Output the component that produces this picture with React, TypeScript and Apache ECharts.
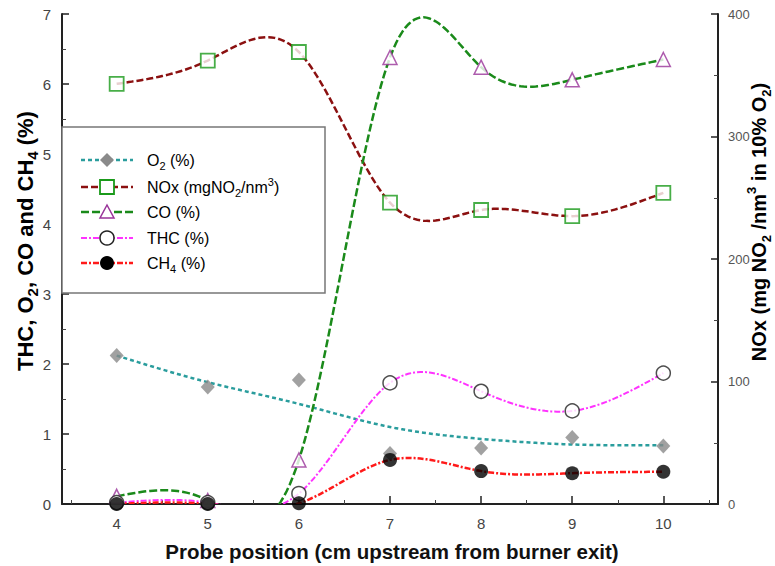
import React, { useEffect, useRef } from "react";
import * as echarts from "echarts";

const positions = [4, 5, 6, 7, 8, 9, 10];
const xLabels = [4, 5, 6, 7, 8, 9, 10];
const xHalfTicks = [3.5, 4.5, 5.5, 6.5, 7.5, 8.5, 9.5, 10.5];
const o2Points = [2.12, 1.67, 1.77, 0.72, 0.8, 0.95, 0.83];
const o2Trend = [2.12, 1.74, 1.43, 1.1, 0.93, 0.85, 0.84];
const noxValues = [343, 362, 369, 246, 240, 235, 254];
const coValues = [0.11, 0.05, 0.63, 6.38, 6.24, 6.06, 6.35];
const thcValues = [0.02, 0.02, 0.15, 1.73, 1.61, 1.33, 1.87];
const ch4Values = [0.0, 0.0, 0.01, 0.63, 0.47, 0.44, 0.46];

const FONT = "Liberation Sans, Arial, Helvetica, sans-serif";

const pair = (arr: number[]) => positions.map((x, i) => [x, arr[i]]);

// natural cubic spline (second derivatives) through the data points
function splineM(xs: number[], ys: number[]) {
  const n = xs.length;
  const M = new Array(n).fill(0);
  if (n < 3) return M;
  const a: number[] = [], b: number[] = [], c: number[] = [], d: number[] = [];
  for (let i = 1; i < n - 1; i++) {
    const h0 = xs[i] - xs[i - 1];
    const h1 = xs[i + 1] - xs[i];
    a.push(h0);
    b.push(2 * (h0 + h1));
    c.push(h1);
    d.push(6 * ((ys[i + 1] - ys[i]) / h1 - (ys[i] - ys[i - 1]) / h0));
  }
  const m = b.length;
  const cp = new Array(m).fill(0), dp = new Array(m).fill(0);
  cp[0] = c[0] / b[0];
  dp[0] = d[0] / b[0];
  for (let i = 1; i < m; i++) {
    const den = b[i] - a[i] * cp[i - 1];
    cp[i] = c[i] / den;
    dp[i] = (d[i] - a[i] * dp[i - 1]) / den;
  }
  const sol = new Array(m).fill(0);
  sol[m - 1] = dp[m - 1];
  for (let i = m - 2; i >= 0; i--) sol[i] = dp[i] - cp[i] * sol[i + 1];
  for (let i = 0; i < m; i++) M[i + 1] = sol[i];
  return M;
}

function splineCurve(xs: number[], ys: number[], steps = 30) {
  const M = splineM(xs, ys);
  const out: number[][] = [];
  for (let i = 0; i < xs.length - 1; i++) {
    const h = xs[i + 1] - xs[i];
    for (let k = i === 0 ? 0 : 1; k <= steps; k++) {
      const x = xs[i] + (h * k) / steps;
      const A = xs[i + 1] - x;
      const B = x - xs[i];
      const y =
        (M[i] * A * A * A) / (6 * h) +
        (M[i + 1] * B * B * B) / (6 * h) +
        (ys[i] - (M[i] * h * h) / 6) * (A / h) +
        (ys[i + 1] - (M[i + 1] * h * h) / 6) * (B / h);
      out.push([x, y]);
    }
  }
  return out;
}

function curveSeries(name: string, values: number[], color: string, width: number, dash: number[], yAxisIndex = 0, z = 2) {
  const curve = splineCurve(positions, values);
  return {
    name,
    type: "custom",
    yAxisIndex,
    clip: true,
    z,
    data: pair(values),
    renderItem: (params: any, api: any) => {
      if (params.dataIndex !== 0) return { type: "group", children: [] };
      const cs = params.coordSys;
      return {
        type: "polyline",
        shape: { points: curve.map((p) => api.coord(p)) },
        style: { stroke: color, lineWidth: width, lineDash: dash, fill: null },
        clipPath: { type: "rect", shape: { x: cs.x, y: cs.y, width: cs.width, height: cs.height } },
        silent: true,
      };
    },
  };
}

const richBig = (size: number) => ({
  m: { fontSize: size, fontWeight: "bold", fontFamily: FONT, lineHeight: size + 8, verticalAlign: "middle", color: "#111" },
  sub: { fontSize: Math.round(size * 0.66), fontWeight: "bold", fontFamily: FONT, lineHeight: Math.round(size * 0.66), verticalAlign: "bottom", color: "#111" },
  sup: { fontSize: Math.round(size * 0.66), fontWeight: "bold", fontFamily: FONT, lineHeight: Math.round(size * 0.66), verticalAlign: "top", color: "#111" },
});

const richLegend = {
  m: { fontSize: 16, fontFamily: FONT, lineHeight: 22, verticalAlign: "middle", color: "#111" },
  sub: { fontSize: 11, fontFamily: FONT, lineHeight: 11, verticalAlign: "bottom", color: "#111" },
  sup: { fontSize: 11, fontFamily: FONT, lineHeight: 11, verticalAlign: "top", color: "#111" },
};

export default function App() {
  const ref = useRef<HTMLDivElement>(null);
  useEffect(() => {
    const chart = echarts.init(ref.current!, null, { renderer: "svg" });
    const lx0 = 81, lx1 = 133, mx = 107, tx = 147;
    const rows = [160, 187, 212, 238, 263];
    const legendLine = (y: number, color: string, dash: number[], w = 2.5) => ({
      type: "line",
      shape: { x1: lx0, y1: y, x2: lx1, y2: y },
      style: { stroke: color, lineWidth: w, lineDash: dash },
      z: 101,
    });
    const legendText = (y: number, text: string) => ({
      type: "text",
      x: tx,
      y,
      style: { text, rich: richLegend, verticalAlign: "middle", align: "left", font: `16px ${FONT}` },
      z: 102,
    });
    const option: any = {
      animation: false,
      grid: { left: 62, right: 57, top: 14, bottom: 62, containLabel: false, outerBoundsMode: "none" },
      xAxis: [
        {
          type: "value",
          min: 3.4,
          max: 10.6,
          axisLine: { show: true, lineStyle: { color: "#222", width: 2 } },
          axisTick: { show: true, inside: true, length: 8, customValues: xLabels, lineStyle: { color: "#222", width: 1.5 } },
          axisLabel: { customValues: xLabels, color: "#444", fontSize: 15, fontFamily: FONT, margin: 12 },
          splitLine: { show: false },
        },
        {
          type: "value",
          min: 3.4,
          max: 10.6,
          position: "bottom",
          axisLine: { show: false },
          axisTick: { show: true, inside: true, length: 4, customValues: xHalfTicks, lineStyle: { color: "#444", width: 1 } },
          axisLabel: { show: false },
          splitLine: { show: false },
        },
      ],
      yAxis: [
        {
          type: "value",
          min: 0,
          max: 7,
          interval: 1,
          axisLine: { show: true, lineStyle: { color: "#222", width: 2 } },
          axisTick: { show: true, inside: true, length: 7, lineStyle: { color: "#222", width: 1.5 } },
          minorTick: { show: true, splitNumber: 2, length: 4, lineStyle: { color: "#444", width: 1 } },
          axisLabel: { color: "#444", fontSize: 15, fontFamily: FONT, margin: 11 },
          splitLine: { show: false },
        },
        {
          type: "value",
          min: 0,
          max: 400,
          interval: 100,
          position: "right",
          axisLine: { show: true, lineStyle: { color: "#222", width: 2 } },
          axisTick: { show: true, inside: true, length: 7, lineStyle: { color: "#222", width: 1.5 } },
          minorTick: { show: true, splitNumber: 2, length: 4, lineStyle: { color: "#444", width: 1 } },
          axisLabel: { color: "#555", fontSize: 13, fontFamily: FONT, margin: 10 },
          splitLine: { show: false },
        },
      ],
      series: [
        curveSeries("O2 trend", o2Trend, "#2a9d9d", 2.5, [4, 3], 0, 2),
        curveSeries("NOx curve", noxValues, "#8b1010", 2.5, [7, 3], 1, 2),
        curveSeries("CO curve", coValues, "#1a8a1a", 2.5, [8, 3], 0, 2),
        curveSeries("THC curve", thcValues, "#ff33ff", 2, [6, 2, 2, 2], 0, 3),
        curveSeries("CH4 curve", ch4Values, "#ff1a1a", 2.5, [6, 2, 2, 2], 0, 3),
        {
          name: "O2",
          type: "scatter",
          data: pair(o2Points),
          symbol: "diamond",
          symbolSize: [14, 15],
          itemStyle: { color: "#8a8a8a" },
          z: 6,
        },
        {
          name: "NOx",
          type: "scatter",
          yAxisIndex: 1,
          data: pair(noxValues),
          symbol: "rect",
          symbolSize: 14,
          itemStyle: { color: "#ffffff", borderColor: "#1a9a1a", borderWidth: 1.8 },
          z: 6,
        },
        {
          name: "CO",
          type: "scatter",
          data: pair(coValues),
          symbol: "triangle",
          symbolSize: 14,
          itemStyle: { color: "#ffffff", borderColor: "#993399", borderWidth: 1.5 },
          z: 6,
        },
        {
          name: "THC",
          type: "scatter",
          data: pair(thcValues),
          symbol: "circle",
          symbolSize: 14,
          itemStyle: { color: "#ffffff", borderColor: "#222", borderWidth: 1.5 },
          z: 7,
        },
        {
          name: "CH4",
          type: "scatter",
          data: pair(ch4Values),
          symbol: "circle",
          symbolSize: 14,
          itemStyle: { color: "#000000" },
          z: 8,
        },
      ],
      graphic: [
        {
          type: "text",
          x: 392,
          y: 551,
          style: { text: "Probe position (cm upstream from burner exit)", font: `bold 20.5px ${FONT}`, fill: "#111", align: "center", verticalAlign: "middle" },
        },
        {
          type: "text",
          x: 25,
          y: 241,
          rotation: Math.PI / 2,
          style: { text: "{m|THC, O}{sub|2}{m|, CO and CH}{sub|4}{m| (%)}", rich: richBig(22), align: "center", verticalAlign: "middle" },
        },
        {
          type: "text",
          x: 759,
          y: 222,
          rotation: Math.PI / 2,
          style: { text: "{m|NOx (mg NO}{sub|2}{m| /nm}{sup|3}{m| in 10% O}{sub|2}{m|)}", rich: richBig(20), align: "center", verticalAlign: "middle" },
        },
        {
          type: "rect",
          shape: { x: 62, y: 127, width: 263, height: 166 },
          style: { fill: "#ffffff", stroke: "#777", lineWidth: 1.5 },
          z: 100,
        },
        legendLine(rows[0], "#2a9d9d", [4, 3]),
        {
          type: "polygon",
          shape: { points: [[mx, rows[0] - 7], [mx + 7, rows[0]], [mx, rows[0] + 7], [mx - 7, rows[0]]] },
          style: { fill: "#8a8a8a" },
          z: 103,
        },
        legendText(rows[0], "{m|O}{sub|2}{m| (%)}"),
        legendLine(rows[1], "#8b1010", [7, 3]),
        {
          type: "rect",
          shape: { x: mx - 7, y: rows[1] - 7, width: 14, height: 14 },
          style: { fill: "#ffffff", stroke: "#1a9a1a", lineWidth: 1.8 },
          z: 103,
        },
        legendText(rows[1], "{m|NOx (mgNO}{sub|2}{m|/nm}{sup|3}{m|)}"),
        legendLine(rows[2], "#1a8a1a", [8, 3]),
        {
          type: "polygon",
          shape: { points: [[mx, rows[2] - 7], [mx + 7, rows[2] + 6], [mx - 7, rows[2] + 6]] },
          style: { fill: "#ffffff", stroke: "#993399", lineWidth: 1.5 },
          z: 103,
        },
        legendText(rows[2], "{m|CO (%)}"),
        legendLine(rows[3], "#ff33ff", [6, 2, 2, 2], 2),
        {
          type: "circle",
          shape: { cx: mx, cy: rows[3], r: 7 },
          style: { fill: "#ffffff", stroke: "#222", lineWidth: 1.5 },
          z: 103,
        },
        legendText(rows[3], "{m|THC (%)}"),
        legendLine(rows[4], "#ff1a1a", [6, 2, 2, 2]),
        {
          type: "circle",
          shape: { cx: mx, cy: rows[4], r: 7 },
          style: { fill: "#000000" },
          z: 103,
        },
        legendText(rows[4], "{m|CH}{sub|4}{m| (%)}"),
      ],
    };
    chart.setOption(option);
    return () => chart.dispose();
  }, []);
  return <div ref={ref} style={{ position: "fixed", left: 0, top: 0, width: 775, height: 566, background: "#fff" }} />;
}
